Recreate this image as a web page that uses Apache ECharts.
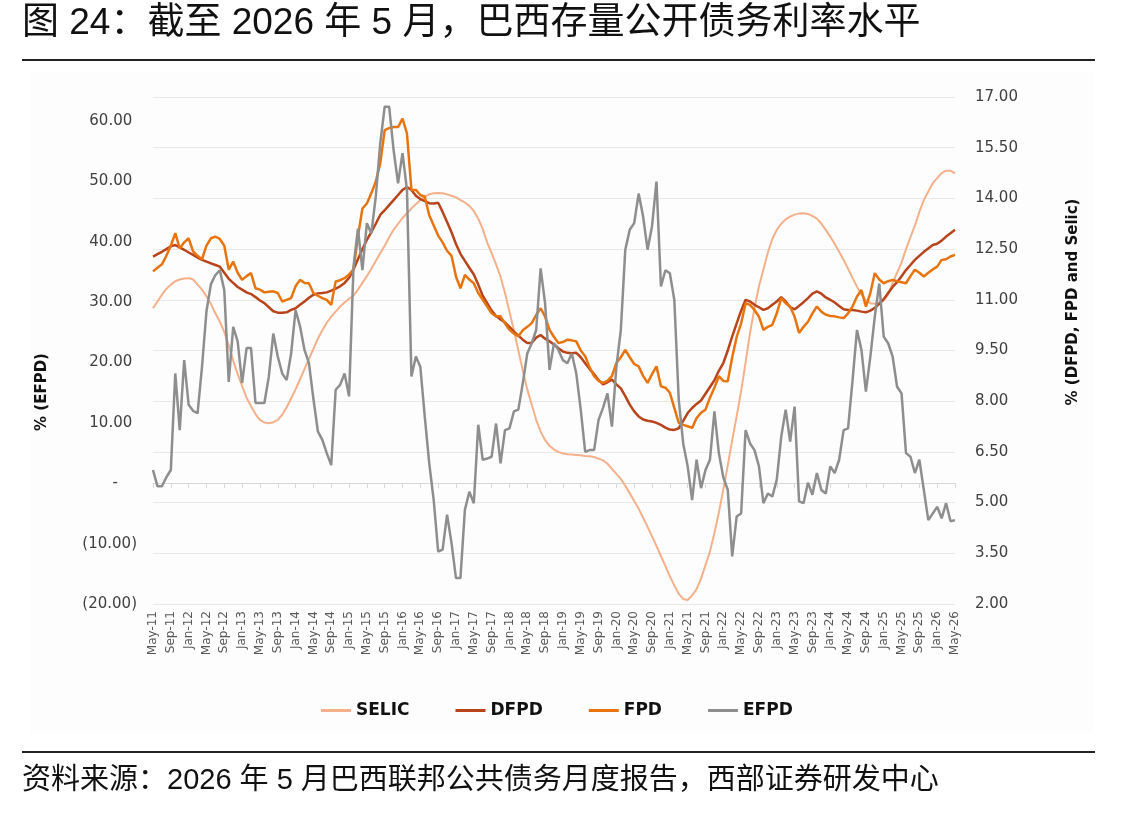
<!DOCTYPE html>
<html>
<head>
<meta charset="utf-8">
<script src="https://cdn.jsdelivr.net/npm/echarts@6/dist/echarts.min.js"></script>
<style>
  html, body { margin: 0; padding: 0; background: #fff; }
  #chart { width: 1144px; height: 817px; }
</style>
</head>
<body>
<div id="chart"></div>
<script>
// monthly categories, May-11 .. May-26
const MONTH_NAMES = ['Jan', 'Feb', 'Mar', 'Apr', 'May', 'Jun', 'Jul', 'Aug', 'Sep', 'Oct', 'Nov', 'Dec'];
const months = [];
for (let k = 0; k <= 180; k++) {
  const m = (4 + k) % 12;
  const y = 11 + Math.floor((4 + k) / 12);
  months.push(MONTH_NAMES[m] + '-' + String(y).padStart(2, '0'));
}

// right axis (%)
const selic = [
  10.75, 10.95, 11.15, 11.32, 11.45, 11.55, 11.6, 11.63, 11.64, 11.6, 11.45, 11.3,
  11.1, 10.88, 10.6, 10.35, 10.05, 9.65, 9.2, 8.8, 8.45, 8.1, 7.85, 7.62,
  7.45, 7.37, 7.35, 7.38, 7.45, 7.6, 7.82, 8.08, 8.35, 8.65, 8.95, 9.25,
  9.55, 9.85, 10.1, 10.32, 10.5, 10.65, 10.8, 10.92, 11.03, 11.12, 11.3, 11.5,
  11.7, 11.92, 12.15, 12.38, 12.6, 12.85, 13.07, 13.25, 13.42, 13.56, 13.7, 13.83,
  13.95, 14.05, 14.12, 14.15, 14.16, 14.15, 14.12, 14.08, 14.03, 13.95, 13.88, 13.78,
  13.63, 13.4, 13.1, 12.7, 12.38, 12.05, 11.69, 11.2, 10.65, 10.1, 9.5, 8.9,
  8.35, 7.9, 7.45, 7.1, 6.85, 6.68, 6.57, 6.5, 6.45, 6.43, 6.42, 6.41,
  6.4, 6.38, 6.37, 6.35, 6.3, 6.25, 6.15, 6.0, 5.85, 5.7, 5.5, 5.28,
  5.05, 4.82, 4.55, 4.28, 4.0, 3.72, 3.42, 3.12, 2.82, 2.55, 2.3, 2.15,
  2.12, 2.25, 2.44, 2.75, 3.15, 3.55, 4.1, 4.7, 5.39, 6.1, 6.85, 7.56,
  8.3, 9.15, 10.02, 10.75, 11.4, 11.9, 12.4, 12.8, 13.07, 13.25, 13.38, 13.46,
  13.52, 13.55, 13.56, 13.54, 13.48, 13.4, 13.25, 13.07, 12.87, 12.65, 12.42, 12.18,
  11.92, 11.65, 11.39, 11.15, 10.98, 10.9, 10.88, 10.92, 10.98, 11.15, 11.5, 11.8,
  12.1, 12.5, 12.85, 13.2, 13.6, 13.95, 14.2, 14.45, 14.6, 14.75, 14.82, 14.82,
  14.74
];

const dfpd = [
  12.28, 12.35, 12.42, 12.5, 12.58, 12.62, 12.55, 12.48, 12.4, 12.33, 12.25, 12.18,
  12.13, 12.08, 12.03, 11.98, 11.8, 11.62, 11.5, 11.38, 11.3, 11.22, 11.17, 11.08,
  10.98, 10.9, 10.78, 10.66, 10.62, 10.62, 10.63, 10.7, 10.75, 10.85, 10.95, 11.06,
  11.15, 11.19, 11.2, 11.22, 11.27, 11.33, 11.4, 11.5, 11.65, 11.9, 12.2, 12.5,
  12.77, 13.0, 13.25, 13.51, 13.65, 13.8, 13.95, 14.1, 14.25, 14.34, 14.25, 14.08,
  13.98, 13.92, 13.86, 13.85, 13.87, 13.6, 13.3, 13.0, 12.65, 12.36, 12.15, 11.95,
  11.75, 11.45, 11.12, 10.9, 10.68, 10.52, 10.42, 10.33, 10.2, 10.06, 9.94, 9.82,
  9.72, 9.72, 9.88, 9.96, 9.85, 9.77, 9.68, 9.57, 9.47, 9.43, 9.42, 9.43,
  9.3, 9.12, 8.95, 8.8, 8.63, 8.5, 8.56, 8.64, 8.5, 8.38, 8.15, 7.9,
  7.7, 7.55, 7.46, 7.42, 7.4, 7.36, 7.3, 7.22, 7.16, 7.15, 7.2, 7.42,
  7.65, 7.8, 7.92, 8.02, 8.22, 8.42, 8.62, 8.9, 9.13, 9.5, 9.92, 10.3,
  10.68, 11.0, 10.95, 10.85, 10.78, 10.7, 10.75, 10.85, 10.95, 11.08, 10.95, 10.78,
  10.72, 10.82, 10.93, 11.05, 11.18, 11.25, 11.18, 11.07, 11.0, 10.92, 10.82, 10.72,
  10.7, 10.7, 10.68, 10.65, 10.63, 10.68, 10.76, 10.88, 11.02, 11.2, 11.38, 11.52,
  11.7, 11.88, 12.03, 12.18, 12.3, 12.42, 12.52, 12.62, 12.66, 12.75, 12.87, 12.97,
  13.07
];

const fpd = [
  11.84, 11.95, 12.05, 12.3, 12.6, 12.97, 12.52, 12.7, 12.82, 12.43, 12.3, 12.2,
  12.6, 12.82, 12.87, 12.8, 12.6, 11.89, 12.13, 11.8, 11.59, 11.7, 11.79, 11.34,
  11.3, 11.22, 11.24, 11.25, 11.2, 10.95, 11.0, 11.05, 11.4, 11.59, 11.5, 11.49,
  11.2, 11.12, 11.05, 11.0, 10.85, 11.54, 11.58, 11.64, 11.75, 11.89, 12.87, 13.7,
  13.85, 14.15, 14.5, 15.03, 16.02, 16.08, 16.11, 16.11, 16.36, 15.92, 14.25, 14.25,
  14.1, 14.05, 13.5, 13.2, 12.9, 12.7, 12.45, 12.3, 11.69, 11.34, 11.74, 11.6,
  11.49, 11.2, 11.0, 10.8, 10.6, 10.51, 10.51, 10.3, 10.11, 10.0, 9.92, 10.1,
  10.2, 10.31, 10.55, 10.75, 10.5, 10.11, 9.9, 9.72, 9.75, 9.82, 9.8, 9.77,
  9.5, 9.33, 9.0, 8.74, 8.6, 8.54, 8.6, 8.74, 9.13, 9.3, 9.52, 9.3,
  9.1, 9.03, 8.75, 8.54, 8.8, 9.03, 8.44, 8.4, 8.25, 7.8, 7.36, 7.3,
  7.26, 7.21, 7.5, 7.66, 7.75, 8.1, 8.4, 8.74, 8.6, 8.59, 9.3, 9.9,
  10.3, 10.9, 10.85, 10.7, 10.5, 10.11, 10.2, 10.26, 10.6, 11.05, 10.9, 10.8,
  10.5, 10.02, 10.2, 10.35, 10.6, 10.8, 10.65, 10.56, 10.52, 10.51, 10.48, 10.46,
  10.6, 10.8, 11.1, 11.29, 10.8, 11.2, 11.79, 11.6, 11.49, 11.55, 11.59, 11.55,
  11.52, 11.49, 11.7, 11.89, 11.8, 11.69, 11.8, 11.9, 11.98, 12.18, 12.2, 12.28,
  12.33
];

// left axis (%)
const efpd = [
  2.2, -0.5, -0.5, 1.0, 2.2, 18.2, 8.8, 20.4, 13.0, 12.0, 11.6, 19.3,
  28.5, 33.0, 34.5, 35.3, 32.0, 16.8, 25.9, 23.5, 16.6, 22.4, 22.4, 13.3,
  13.3, 13.3, 17.7, 24.8, 21.0, 18.2, 17.1, 21.5, 28.7, 26.0, 22.1, 19.9,
  14.0, 8.6, 7.2, 5.0, 3.0, 15.5, 16.3, 18.2, 14.4, 35.9, 42.2, 35.3,
  43.1, 41.4, 47.5, 56.3, 62.4, 62.4, 55.2, 49.7, 54.7, 48.6, 17.7, 21.0,
  19.3, 11.0, 3.3, -2.8, -11.3, -11.0, -5.2, -9.9, -15.7, -15.7, -4.4, -1.4,
  -3.3, 9.7, 3.9, 4.1, 4.4, 9.9, 3.3, 8.8, 9.1, 11.9, 12.2, 16.6,
  21.5, 23.2, 25.4, 35.6, 29.8, 18.8, 23.2, 22.1, 20.4, 19.9, 21.5, 18.2,
  12.2, 5.2, 5.5, 5.5, 10.5, 12.5, 14.9, 9.4, 19.3, 25.4, 38.7, 42.0,
  43.1, 48.0, 44.2, 38.7, 42.6, 50.0, 32.6, 35.3, 34.8, 30.4, 13.8, 6.6,
  2.8, -2.8, 3.9, -0.8, 2.2, 3.9, 11.9, 5.0, 1.0, -1.1, -12.1, -5.5,
  -5.0, 8.8, 6.6, 5.5, 2.8, -3.3, -1.7, -2.2, 0.6, 7.7, 12.2, 6.9,
  12.7, -3.0, -3.3, 0.1, -1.9, 1.7, -1.1, -1.7, 2.8, 1.7, 3.9, 8.8,
  9.1, 17.0, 25.4, 22.1, 15.2, 21.0, 27.6, 33.1, 24.3, 23.2, 21.0, 16.0,
  14.9, 5.0, 4.4, 1.7, 3.9, -1.1, -6.1, -5.0, -3.9, -5.8, -3.3, -6.3,
  -6.1
];

const COLORS = {selic: '#F4B08A', dfpd: '#B8441C', fpd: '#E8740F', efpd: '#8E8E8E'};
const LABEL_FONT = 'DejaVu Sans';

function leftFmt(v) {
  if (v === 0) return '-    ';
  if (v < 0) return '(' + (-v).toFixed(2) + ')';
  return v.toFixed(2) + ' ';
}

function lineSeries(name, data, color, axis, width) {
  return {
    name: name,
    type: 'line',
    yAxisIndex: axis,
    data: data,
    symbol: 'none',
    smooth: false,
    lineStyle: {color: color, width: width},
    itemStyle: {color: color},
  };
}

const chart = echarts.init(document.getElementById('chart'));

chart.setOption({
  backgroundColor: '#fff',
  animation: false,
  grid: {left: 153, right: 189, top: 97, bottom: 213},
  legend: {
    left: 316,
    top: 697,
    icon: 'rect',
    itemWidth: 30,
    itemHeight: 3,
    itemGap: 46,
    textStyle: {fontFamily: LABEL_FONT, fontWeight: 'bold', fontSize: 17, color: '#111'},
    data: ['SELIC', 'DFPD', 'FPD', 'EFPD'],
  },
  xAxis: {
    type: 'category',
    data: months,
    boundaryGap: false,
    axisLine: {lineStyle: {color: '#d9d9d9'}},
    axisTick: {interval: 3, length: 5, lineStyle: {color: '#d9d9d9'}},
    axisLabel: {
      interval: 3,
      rotate: 90,
      margin: 7,
      fontFamily: LABEL_FONT,
      fontSize: 12,
      color: '#595959',
    },
  },
  yAxis: [
    {
      type: 'value',
      position: 'left',
      min: -20,
      max: 64,
      interval: 10,
      splitLine: {show: false},
      axisLine: {show: false},
      axisTick: {show: false},
      axisLabel: {
        showMaxLabel: false,
        formatter: leftFmt,
        margin: 16,
        fontFamily: LABEL_FONT,
        fontSize: 15,
        color: '#404040',
      },
    },
    {
      type: 'value',
      position: 'right',
      min: 2,
      max: 17,
      interval: 1.5,
      splitLine: {lineStyle: {color: '#e8e8e8', width: 1}},
      axisLine: {show: false},
      axisTick: {show: false},
      axisLabel: {
        formatter: (v) => v.toFixed(2),
        margin: 20,
        fontFamily: LABEL_FONT,
        fontSize: 15,
        color: '#404040',
      },
    },
  ],
  series: [
    lineSeries('SELIC', selic, COLORS.selic, 1, 2),
    lineSeries('DFPD', dfpd, COLORS.dfpd, 1, 2.5),
    lineSeries('FPD', fpd, COLORS.fpd, 1, 2.5),
    lineSeries('EFPD', efpd, COLORS.efpd, 0, 2.5),
  ],
  graphic: [
    {
      type: 'rect',
      z: -10,
      shape: {x: 30, y: 72, width: 1063, height: 661},
      style: {fill: '#fdfdfd'},
    },
    {
      type: 'text',
      left: 22,
      top: 5,
      style: {
        text: '图 24：截至 2026 年 5 月，巴西存量公开债务利率水平',
        font: '37px "Liberation Sans", "Noto Sans CJK SC"',
        fill: '#111',
      },
    },
    {
      type: 'line',
      shape: {x1: 22, y1: 60, x2: 1095, y2: 60},
      style: {stroke: '#222', lineWidth: 2},
    },
    {
      type: 'line',
      shape: {x1: 22, y1: 752, x2: 1095, y2: 752},
      style: {stroke: '#222', lineWidth: 2},
    },
    {
      type: 'text',
      left: 22,
      top: 766,
      style: {
        text: '资料来源：2026 年 5 月巴西联邦公共债务月度报告，西部证券研发中心',
        font: '29px "Liberation Sans", "Noto Sans CJK SC"',
        fill: '#111',
      },
    },
    {
      type: 'text',
      x: 42,
      y: 392,
      rotation: Math.PI / 2,
      style: {
        text: '% (EFPD)',
        font: 'bold 15px "DejaVu Sans"',
        fill: '#111',
        align: 'center',
        verticalAlign: 'middle',
      },
    },
    {
      type: 'text',
      x: 1073,
      y: 302,
      rotation: Math.PI / 2,
      style: {
        text: '% (DFPD, FPD and Selic)',
        font: 'bold 15px "DejaVu Sans"',
        fill: '#111',
        align: 'center',
        verticalAlign: 'middle',
      },
    },
  ],
});
</script>
</body>
</html>
